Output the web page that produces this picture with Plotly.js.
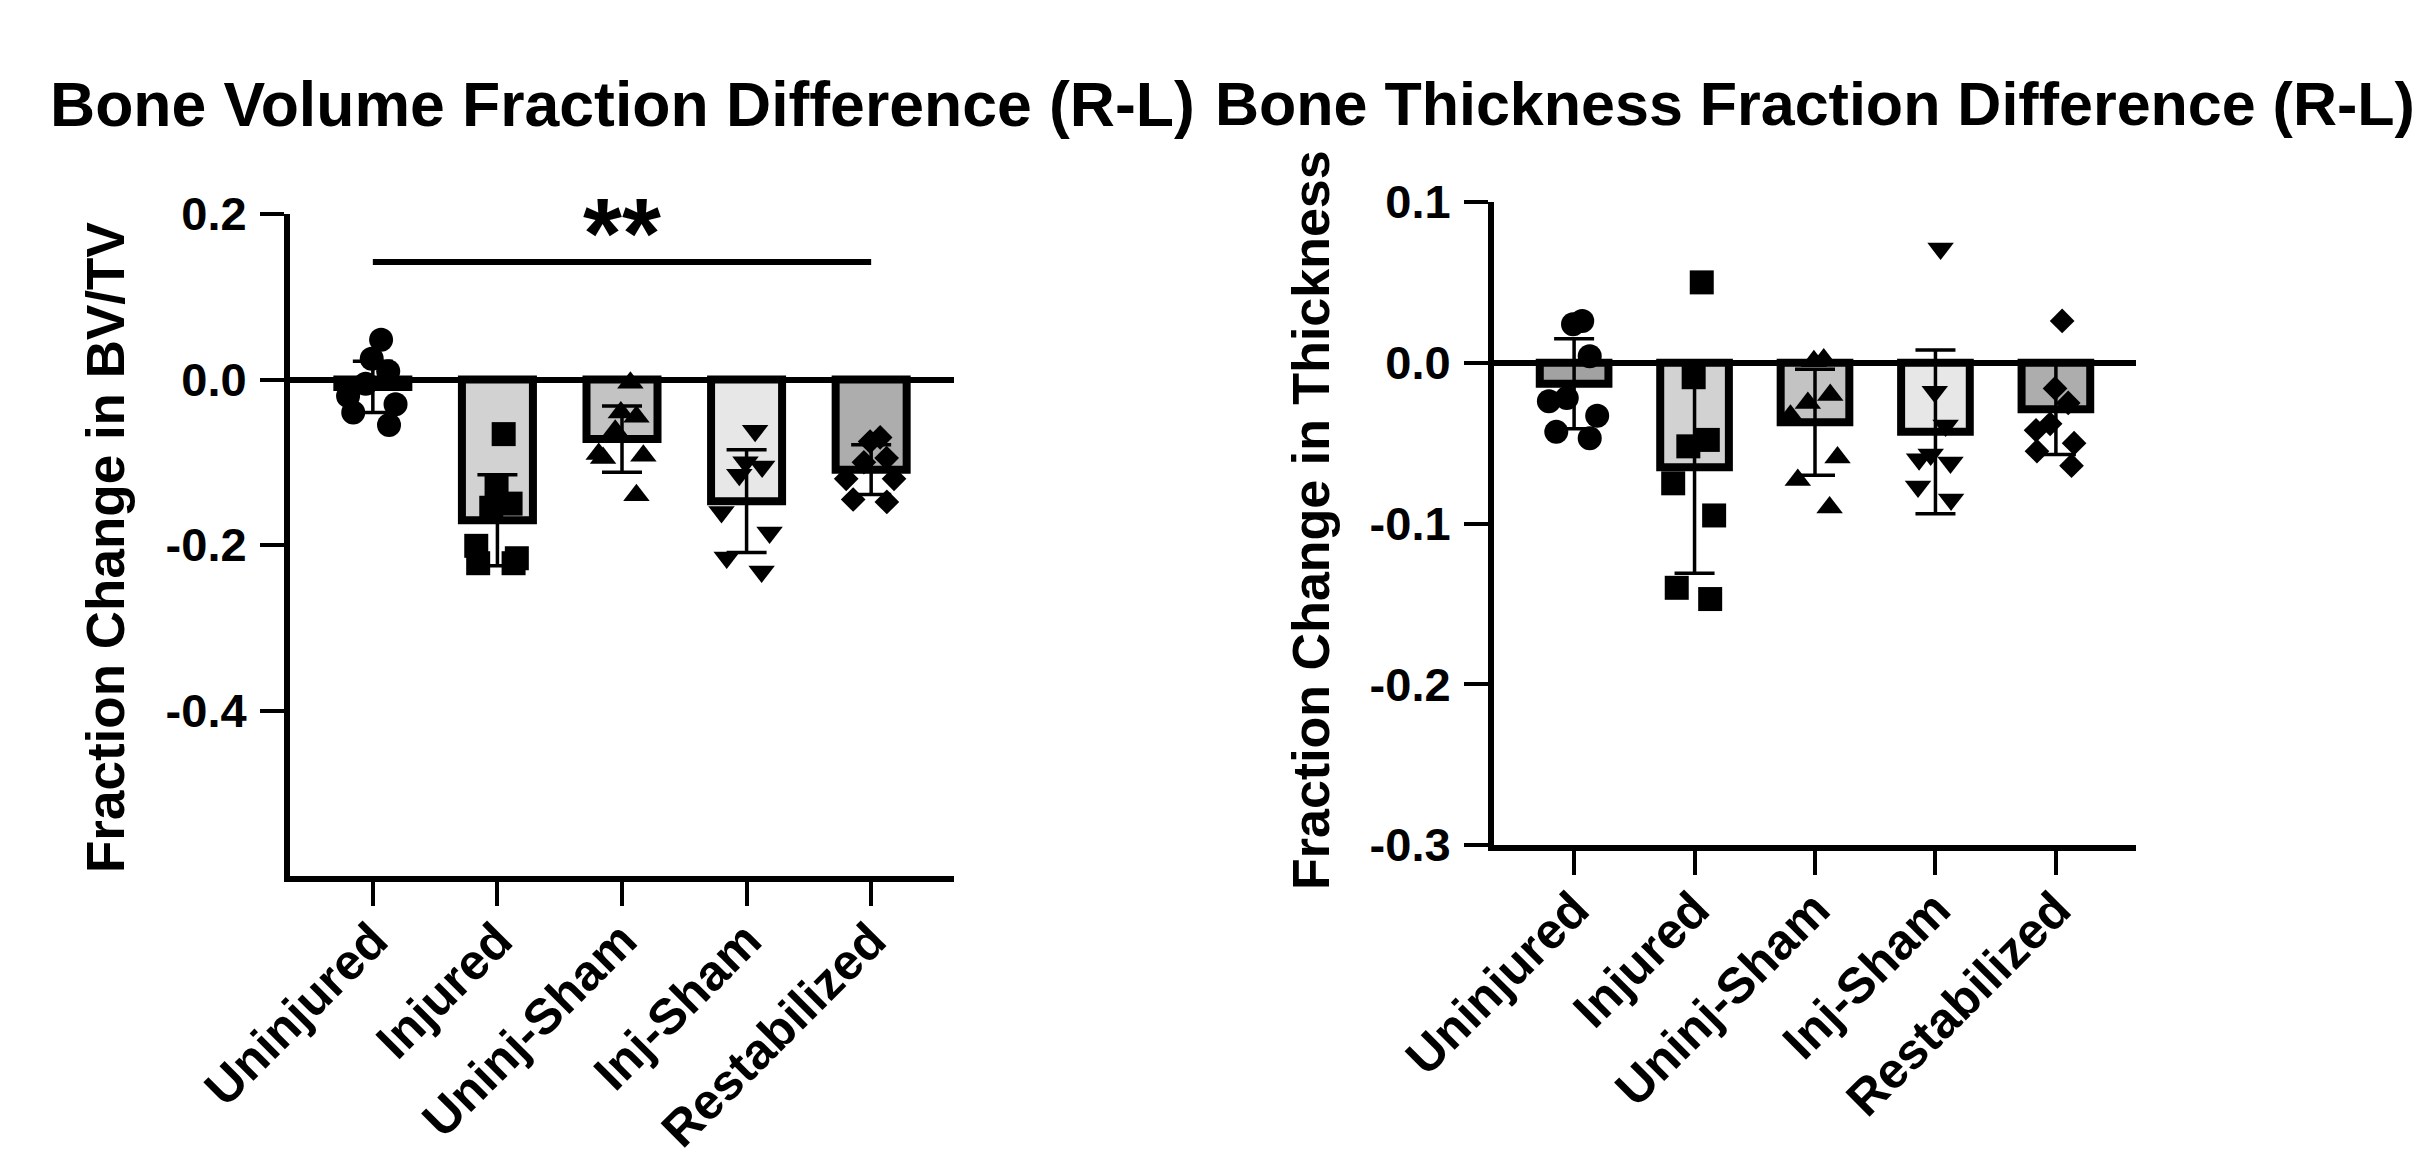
<!DOCTYPE html>
<html>
<head>
<meta charset="utf-8">
<script src="https://cdn.plot.ly/plotly-3.0.1.min.js"></script>
<style>
html,body{margin:0;padding:0;background:#fff;}
#chart{width:2419px;height:1157px;}
</style>
</head>
<body>
<div id="chart"></div>
<script>
// ---- data ----
const categories = ['Uninjured', 'Injured', 'Uninj-Sham', 'Inj-Sham', 'Restabilized'];
const symbols = ['circle', 'square', 'triangle-up', 'triangle-down', 'diamond'];
const barColors = ['#a2a2a2', '#d2d2d2', '#c3c3c3', '#e7e7e7', '#adadad'];

// Bone volume fraction (BV/TV) difference
const bvMean = [-0.009, -0.170, -0.072, -0.147, -0.109];
const bvSD = [0.031, 0.055, 0.040, 0.062, 0.030];
const bvUninjured = [0.048, 0.025, 0.010, -0.005, -0.020, -0.030, -0.040, -0.055];
const bvInjured = [-0.066, -0.130, -0.150, -0.155, -0.201, -0.216, -0.222, -0.222];
const bvUninjSham = [-0.004, -0.040, -0.045, -0.062, -0.090, -0.092, -0.095, -0.140];
const bvInjSham = [-0.062, -0.100, -0.105, -0.115, -0.160, -0.185, -0.215, -0.232];
const bvRestab = [-0.070, -0.075, -0.095, -0.100, -0.120, -0.120, -0.145, -0.148];

// Bone thickness fraction difference
const thMean = [-0.013, -0.065, -0.037, -0.043, -0.029];
const thSD = [0.028, 0.066, 0.033, 0.051, 0.028];
const thUninjured = [0.026, 0.024, 0.004, -0.022, -0.024, -0.033, -0.043, -0.047];
const thInjured = [0.050, -0.009, -0.048, -0.052, -0.075, -0.095, -0.140, -0.147];
const thUninjSham = [0.002, 0.001, -0.020, -0.025, -0.033, -0.059, -0.073, -0.090];
const thInjSham = [0.071, -0.018, -0.039, -0.057, -0.060, -0.062, -0.077, -0.085];
const thRestab = [0.026, -0.016, -0.025, -0.038, -0.042, -0.050, -0.055, -0.064];

// ticks
const bvTickVals = [0.2, 0.0, -0.2, -0.4];
const bvTickText = ['0.2', '0.0', '-0.2', '-0.4'];
const thTickVals = [0.1, 0.0, -0.1, -0.2, -0.3];
const thTickText = ['0.1', '0.0', '-0.1', '-0.2', '-0.3'];

// significance bracket
const sigFrom = 'Uninjured';
const sigTo = 'Restabilized';
const sigLevel = 0.142;
const sigStarLevel = 0.199;
const sigLabel = '**';

// titles
const titleLeft = 'Bone Volume Fraction Difference (R-L)';
const titleRight = 'Bone Thickness Fraction Difference (R-L)';
const yTitleLeft = 'Fraction Change in BV/TV';
const yTitleRight = 'Fraction Change in Thickness';

// ---- build ----
const FONT = 'Liberation Sans, Arial, Helvetica, sans-serif';
const bvGroups = [bvUninjured, bvInjured, bvUninjSham, bvInjSham, bvRestab];
const thGroups = [thUninjured, thInjured, thUninjSham, thInjSham, thRestab];
const markerSizes = {'circle': 24, 'square': 24, 'triangle-up': 23, 'triangle-down': 23, 'diamond': 19};

function barTrace(mean, sd, xa, ya) {
  return {
    type: 'bar', x: categories, y: mean, xaxis: xa, yaxis: ya,
    width: 0.57,
    marker: {color: barColors, line: {color: '#000', width: 8}},
    error_y: {type: 'data', array: sd, visible: true, color: '#000', thickness: 3.5, width: 20},
    hoverinfo: 'skip', showlegend: false
  };
}
function pointTraces(groups, xa, ya) {
  return groups.map((vals, i) => ({
    type: 'box', x: vals.map(() => categories[i]), y: vals, xaxis: xa, yaxis: ya,
    boxpoints: 'all', jitter: 1, pointpos: 0, width: 0.5,
    fillcolor: 'rgba(0,0,0,0)', line: {width: 0, color: 'rgba(0,0,0,0)'},
    marker: {symbol: symbols[i], color: '#000', size: markerSizes[symbols[i]], line: {width: 0}},
    hoverinfo: 'skip', showlegend: false
  }));
}

const data = [
  barTrace(bvMean, bvSD, 'x', 'y'),
  barTrace(thMean, thSD, 'x2', 'y2'),
  ...pointTraces(bvGroups, 'x', 'y'),
  ...pointTraces(thGroups, 'x2', 'y2')
];

const W = 2419, H = 1157;
const L = {x0: 290, x1: 954, top: 214, bottom: 876};
const R = {x0: 1494, x1: 2136, top: 202, bottom: 845};

function xAxis(dom, anchor) {
  return {
    domain: [dom.x0 / W, dom.x1 / W], anchor: anchor, type: 'category',
    categoryorder: 'array', categoryarray: categories,
    range: [-0.665, 4.665], showline: true, linecolor: '#000', linewidth: 6,
    ticks: 'outside', ticklen: 24, tickwidth: 4, tickcolor: '#000',
    tickangle: -45, ticklabelstandoff: -15,
    tickfont: {family: FONT, size: 50, color: '#000', weight: 700},
    showgrid: false, zeroline: false, fixedrange: true
  };
}
function yAxis(dom, anchor, range, tv, tt) {
  return {
    domain: [(H - dom.bottom) / H, (H - dom.top) / H], anchor: anchor,
    range: range, showline: true, linecolor: '#000', linewidth: 6,
    ticks: 'outside', ticklen: 24, tickwidth: 4, tickcolor: '#000',
    tickvals: tv, ticktext: tt, ticklabelstandoff: 4,
    tickfont: {family: FONT, size: 47, color: '#000', weight: 700},
    showgrid: false, zeroline: true, zerolinecolor: '#000', zerolinewidth: 6,
    fixedrange: true
  };
}

const layout = {
  width: W, height: H,
  margin: {l: 0, r: 0, t: 0, b: 0},
  paper_bgcolor: '#fff', plot_bgcolor: 'rgba(0,0,0,0)',
  boxmode: 'overlay',
  showlegend: false,
  font: {family: FONT, color: '#000'},
  xaxis: xAxis(L, 'y'),
  yaxis: yAxis(L, 'x', [-0.6, 0.2], bvTickVals, bvTickText),
  xaxis2: xAxis(R, 'y2'),
  yaxis2: yAxis(R, 'x2', [-0.3, 0.1], thTickVals, thTickText),
  shapes: [{
    type: 'line', xref: 'x', yref: 'y', layer: 'above',
    x0: categories.indexOf(sigFrom), x1: categories.indexOf(sigTo),
    y0: sigLevel, y1: sigLevel, line: {color: '#000', width: 6}
  }],
  annotations: [
    {text: titleLeft, xref: 'paper', yref: 'paper', x: ((L.x0 + L.x1) / 2) / W, y: (H - 104) / H,
     xanchor: 'center', yanchor: 'middle', showarrow: false,
     font: {family: FONT, size: 62.5, color: '#000', weight: 700}},
    {text: titleRight, xref: 'paper', yref: 'paper', x: ((R.x0 + R.x1) / 2) / W, y: (H - 104) / H,
     xanchor: 'center', yanchor: 'middle', showarrow: false,
     font: {family: FONT, size: 61, color: '#000', weight: 700}},
    {text: yTitleLeft, xref: 'paper', yref: 'paper', x: 105 / W, y: (H - 548) / H,
     xanchor: 'center', yanchor: 'middle', textangle: -90, showarrow: false,
     font: {family: FONT, size: 53, color: '#000', weight: 700}},
    {text: yTitleRight, xref: 'paper', yref: 'paper', x: 1311 / W, y: (H - 520) / H,
     xanchor: 'center', yanchor: 'middle', textangle: -90, showarrow: false,
     font: {family: FONT, size: 52, color: '#000', weight: 700}},
    {text: sigLabel, xref: 'x', yref: 'y',
     x: (categories.indexOf(sigFrom) + categories.indexOf(sigTo)) / 2, y: sigStarLevel,
     xanchor: 'center', yanchor: 'middle', yshift: -18, showarrow: false,
     font: {family: FONT, size: 100, color: '#000', weight: 700}}
  ]
};

Plotly.newPlot('chart', data, layout, {displayModeBar: false, staticPlot: true});
</script>
</body>
</html>
